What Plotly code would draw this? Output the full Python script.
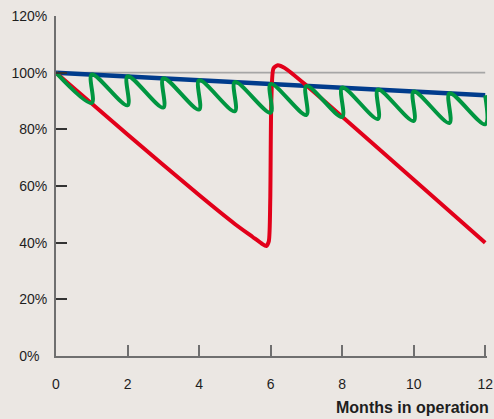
import plotly.graph_objects as go

# ---- data ----
months_blue = [0, 12]
blue_values = [100, 92]

ref_x = [0, 12]
ref_y = [100, 100]

red_x = [0, 2, 4, 5, 5.5, 5.75, 5.88, 5.95, 5.99, 6.02, 6.08, 6.2, 6.4, 7, 12]
red_y = [100, 78.2, 56.8, 46.6, 42.0, 39.7, 38.8, 40.5, 55, 90, 101.5, 102.6, 101.6, 95.5, 40]

green_months = [1, 2, 3, 4, 5, 6, 7, 8, 9, 10, 11, 12]
green_troughs = [89.3, 88.5, 87.7, 87.0, 86.4, 85.9, 85.1, 84.4, 83.7, 83.0, 82.3, 81.8]
green_peaks = [99.3, 98.7, 98.0, 97.3, 96.7, 96.0, 95.3, 94.7, 94.0, 93.3, 92.7, 92.0]
green_start = (0, 100)

x_ticks = [0, 2, 4, 6, 8, 10, 12]
y_ticks = [0, 20, 40, 60, 80, 100, 120]
y_labels = ["0%\u00a0\u00a0", "20%", "40%", "60%", "80%", "100%", "120%"]

# build green sawtooth path from the arrays
gx = [green_start[0]]
gy = [green_start[1]]
for m, lo, hi in zip(green_months, green_troughs, green_peaks):
    gx += [m, m]
    gy += [lo, hi]

BG = "#ebe7e3"
fig = go.Figure()
fig.add_trace(go.Scatter(x=ref_x, y=ref_y, mode="lines",
                         line=dict(color="#a6a6a6", width=1.6), hoverinfo="skip"))
fig.add_trace(go.Scatter(x=months_blue, y=blue_values, mode="lines",
                         line=dict(color="#003c8c", width=4.5)))
fig.add_trace(go.Scatter(x=red_x, y=red_y, mode="lines",
                         line=dict(color="#e2001a", width=4, shape="spline", smoothing=0.6)))
fig.add_trace(go.Scatter(x=gx, y=gy, mode="lines",
                         line=dict(color="#009640", width=4, shape="spline", smoothing=1.0)))

font = dict(family="Liberation Sans, Arial, sans-serif", size=14, color="#1e1e1e")
fig.update_layout(
    width=494, height=419,
    margin=dict(l=56, r=7, t=16, b=63),
    paper_bgcolor=BG, plot_bgcolor=BG,
    showlegend=False,
    font=font,
    xaxis=dict(range=[0, 12.05], tickvals=x_ticks, ticks="inside", ticklen=11,
               tickwidth=2, tickcolor="#6f6f6f", showline=True, linecolor="#6f6f6f",
               linewidth=2, showgrid=False, zeroline=False, ticklabelstandoff=14,
               automargin=False),
    yaxis=dict(range=[0, 120], tickvals=y_ticks, ticktext=y_labels, ticks="inside",
               ticklen=11, tickwidth=1.5, tickcolor="#333333", showline=True,
               linecolor="#6f6f6f", linewidth=2, showgrid=False, zeroline=False,
               ticklabelstandoff=4, automargin=False),
)
fig.add_annotation(text="<b>Months in operation</b>", xref="paper", yref="paper",
                   x=1, y=-0.151, xanchor="right", yanchor="middle", xshift=4,
                   showarrow=False, font=dict(family="Liberation Sans, Arial, sans-serif",
                                              size=16, color="#1e1e1e"))
fig.write_html("out.html", config={"displayModeBar": False},
               post_script="document.body.style.margin='0';document.body.style.overflow='hidden';document.body.style.background='" + BG + "';")
